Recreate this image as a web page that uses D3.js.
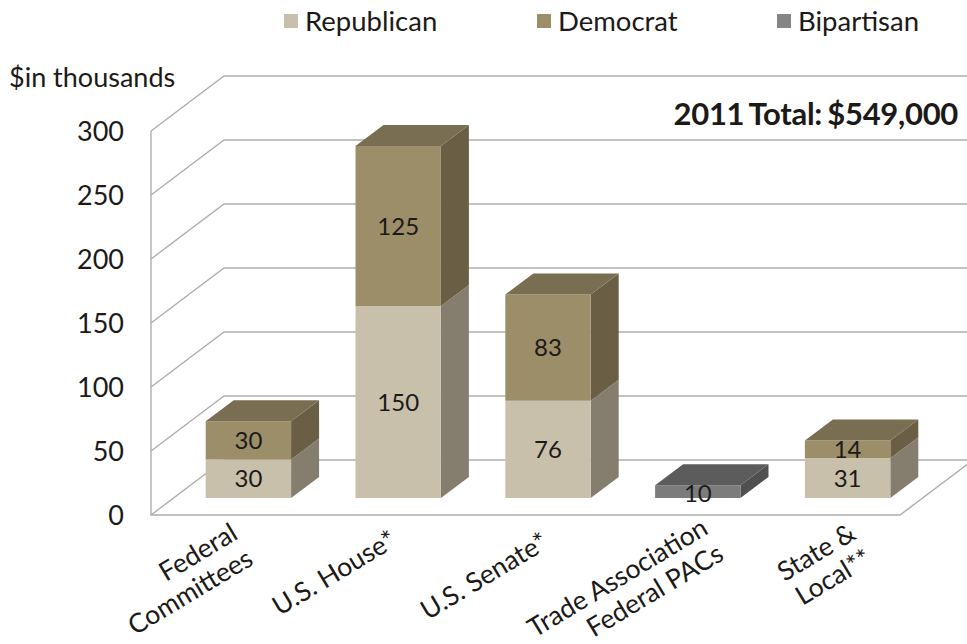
<!DOCTYPE html>
<html><head><meta charset="utf-8">
<script src="https://cdn.jsdelivr.net/npm/d3@7"></script>
<style>html,body{margin:0;padding:0;background:#fff}svg{display:block}text{font-family:Lato,"Open Sans",sans-serif;fill:#1c1a18}</style>
</head><body><svg id="c" width="967" height="644"></svg>
<script>
const categories = ["Federal Committees","U.S. House*","U.S. Senate*","Trade Association Federal PACs","State & Local**"];
const categoryLines = [["Federal","Committees"],["U.S. House*"],["U.S. Senate*"],["Trade Association","Federal PACs"],["State &","Local**"]];
const republican = [30,150,76,0,31];
const democrat = [30,125,83,0,14];
const bipartisan = [0,0,0,10,0];
const seriesNames = ["Republican","Democrat","Bipartisan"];
const yTicks = [0,50,100,150,200,250,300];
const unitLabel = "$in thousands";
const totalLabel = "2011 Total: $549,000";

const colors = {
  Republican:{front:"#c9c0ab",side:"#857e6f",top:"#a39b88",key:"#c9c0ab"},
  Democrat:{front:"#9c8e69",side:"#6a5f45",top:"#7a6e52",key:"#9c8e69"},
  Bipartisan:{front:"#7c7c7c",side:"#505050",top:"#5c5c5c",key:"#858585"}
};
const svg = d3.select("#c");
const floorDX = 73, floorDY = -55, x0 = 151, x1 = 900, yBase = 515, yTop = 131;
const barDX = 28, barDY = -21, liftX = (floorDX-barDX)/2, liftY = (floorDY-barDY)/2;
const x = d3.scaleBand().domain(categories).range([x0,x1]).paddingInner(0.43).paddingOuter(0.215);
const y = d3.scaleLinear().domain([0,300]).range([yBase,yTop]);
const grid = "#aeaeae";
const g = svg.append("g");
yTicks.forEach(t=>{
  const yy=y(t);
  g.append("path").attr("fill","none").attr("stroke",grid).attr("stroke-width",1.4)
   .attr("d",`M${x0},${yy}L${x0+floorDX},${yy+floorDY}L967,${yy+floorDY}`);
});
g.append("path").attr("fill","none").attr("stroke",grid).attr("stroke-width",1.4)
 .attr("d",`M${x0},${y(300)}L${x0},${y(0)}L${x1},${y(0)}L${x1+floorDX},${y(0)+floorDY}`);
const axis = d3.axisLeft(y).tickValues(yTicks).tickSize(0).tickPadding(27);
const ax = svg.append("g").attr("transform",`translate(${x0},0)`).call(axis);
ax.select(".domain").remove();
ax.selectAll("text").attr("font-size",27).style("font-family","Lato").attr("dy","0.36em").attr("fill","#1c1a18");
const stack = [["Republican",republican],["Democrat",democrat],["Bipartisan",bipartisan]];
function poly(pts,fill){ g.append("polygon").attr("points",pts.map(p=>p.join(",")).join(" ")).attr("fill",fill); }
const labels=[];
categories.forEach((c,i)=>{
  let acc=0;
  const bw=x.bandwidth(), xl=x(c)+liftX, xr=xl+bw;
  const segs=stack.filter(s=>s[1][i]>0);
  segs.forEach((s,k)=>{
    const col=colors[s[0]], v=s[1][i];
    const yb=y(acc)+liftY, yt=y(acc+v)+liftY;
    poly([[xr,yb],[xr+barDX,yb+barDY],[xr+barDX,yt+barDY],[xr,yt]],col.side);
    poly([[xl,yt],[xr,yt],[xr,yb],[xl,yb]],col.front);
    if(k===segs.length-1) poly([[xl,yt],[xl+barDX,yt+barDY],[xr+barDX,yt+barDY],[xr,yt]],col.top);
    labels.push({x:xl+bw/2,y:(yb+yt)/2,v,bi:s[0]==="Bipartisan"});
    acc+=v;
  });
});
labels.forEach(l=>{
  svg.append("text").attr("x",l.x).attr("y",l.y+(l.bi?2:0)).attr("dy","0.36em").attr("text-anchor","middle").attr("font-size",24).text(l.v);
});
const labelNudgeX = [-9,0,2,12,10], labelBaseline = [538,545,547,533,538];
categoryLines.forEach((lines,i)=>{
  const c=categories[i], cx=x(c)+x.bandwidth()/2+liftX+labelNudgeX[i];
  const t=svg.append("g").attr("transform",`translate(${cx},${labelBaseline[i]}) rotate(-31)`);
  lines.forEach((ln,j)=>t.append("text").attr("y",j*30).attr("text-anchor","end").attr("font-size",26.5).text(ln));
});
const legendX=[284,537,777];
seriesNames.forEach((n,i)=>{
  svg.append("rect").attr("x",legendX[i]).attr("y",14).attr("width",14).attr("height",14).attr("fill",colors[n].key);
  svg.append("text").attr("x",legendX[i]+21).attr("y",31).attr("font-size",27.5).text(n);
});
svg.append("text").attr("x",9).attr("y",87).attr("font-size",27).text(unitLabel);
svg.append("text").attr("x",958).attr("y",125).attr("text-anchor","end").attr("font-size",31).attr("font-weight",700).style("letter-spacing","-0.3px").style("word-spacing","-2px").text(totalLabel);
</script></body></html>
